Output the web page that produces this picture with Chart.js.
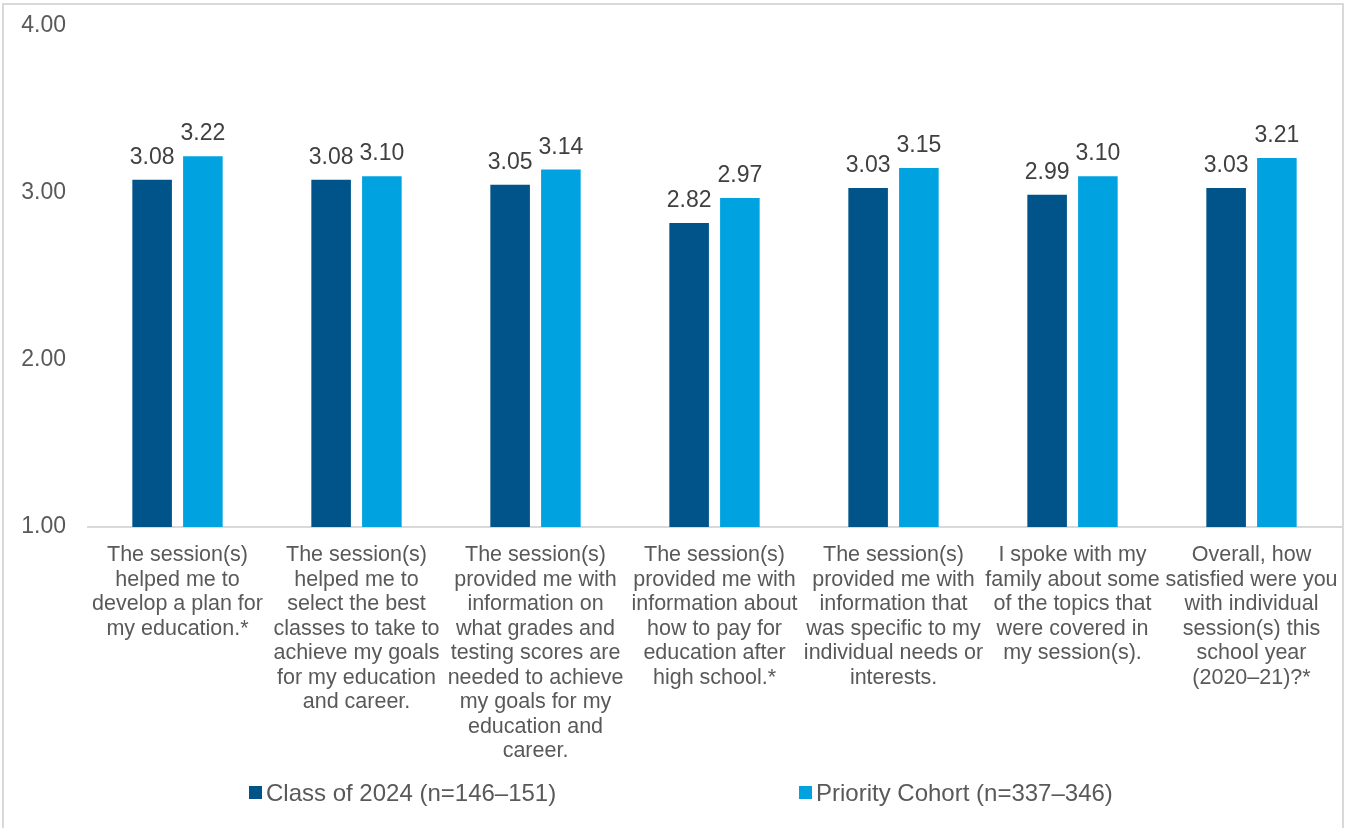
<!DOCTYPE html>
<html>
<head>
<meta charset="utf-8">
<script src="https://cdn.jsdelivr.net/npm/chart.js@4"></script>
<style>
  html, body { margin: 0; padding: 0; background: #fff; overflow: hidden; }
  #frame { position: absolute; left: 2px; top: 3px; width: 1342px; height: 840px; border: 2px solid #d9d9d9; box-sizing: border-box; }
  #wrap { position: absolute; left: 0; top: 0; width: 1347px; height: 828px; }
</style>
</head>
<body>
<div id="frame"></div>
<div id="wrap"><canvas id="chart" width="1347" height="828"></canvas></div>
<script>
const categories = [
    ['The session(s)', 'helped me to', 'develop a plan for', 'my education.*'],
    ['The session(s)', 'helped me to', 'select the best', 'classes to take to', 'achieve my goals', 'for my education', 'and career.'],
    ['The session(s)', 'provided me with', 'information on', 'what grades and', 'testing scores are', 'needed to achieve', 'my goals for my', 'education and', 'career.'],
    ['The session(s)', 'provided me with', 'information about', 'how to pay for', 'education after', 'high school.*'],
    ['The session(s)', 'provided me with', 'information that', 'was specific to my', 'individual needs or', 'interests.'],
    ['I spoke with my', 'family about some', 'of the topics that', 'were covered in', 'my session(s).'],
    ['Overall, how', 'satisfied were you', 'with individual', 'session(s) this', 'school year', '(2020–21)?*']
];
const class2024 = [3.08, 3.08, 3.05, 2.82, 3.03, 2.99, 3.03];
const priorityCohort = [3.22, 3.10, 3.14, 2.97, 3.15, 3.10, 3.21];
const seriesNames = ['Class of 2024 (n=146–151)', 'Priority Cohort (n=337–346)'];
const yTicks = [1, 2, 3, 4];

const textGray = '#595959';
const fontFamily = '"Liberation Sans", Arial, sans-serif';

// value labels above each bar
const valueLabels = {
    id: 'valueLabels',
    afterDatasetsDraw(chart) {
        const ctx = chart.ctx;
        ctx.save();
        ctx.font = '23px ' + fontFamily;
        ctx.fillStyle = '#404040';
        ctx.textAlign = 'center';
        ctx.textBaseline = 'alphabetic';
        chart.data.datasets.forEach((ds, i) => {
            chart.getDatasetMeta(i).data.forEach((bar, j) => {
                ctx.fillText(ds.data[j].toFixed(2), bar.x, bar.y - 16);
            });
        });
        ctx.restore();
    }
};

// legend drawn at the bottom, spaced like the original
const bottomLegend = {
    id: 'bottomLegend',
    afterDraw(chart) {
        const ctx = chart.ctx;
        const starts = [249, 799];
        ctx.save();
        ctx.font = '24px ' + fontFamily;
        ctx.textBaseline = 'middle';
        ctx.textAlign = 'left';
        chart.data.datasets.forEach((ds, i) => {
            ctx.fillStyle = ds.backgroundColor;
            ctx.fillRect(starts[i], 786, 13, 13);
            ctx.fillStyle = textGray;
            ctx.fillText(ds.label, starts[i] + 17, 794);
        });
        ctx.restore();
    }
};

new Chart(document.getElementById('chart').getContext('2d'), {
    type: 'bar',
    data: {
        labels: categories,
        datasets: [
            {
                label: seriesNames[0],
                data: class2024,
                backgroundColor: '#005489'
            },
            {
                label: seriesNames[1],
                data: priorityCohort,
                backgroundColor: '#00a3e0'
            }
        ]
    },
    options: {
        responsive: false,
        animation: false,
        categoryPercentage: 0.567,
        barPercentage: 0.78,
        layout: { padding: { left: 0, right: 6, top: 26, bottom: 0 } },
        plugins: {
            legend: { display: false },
            tooltip: { enabled: false }
        },
        scales: {
            x: {
                grid: { display: false, drawTicks: false },
                border: { display: true, color: '#d9d9d9', width: 2 },
                ticks: {
                    color: textGray,
                    font: { family: fontFamily, size: 21.5, lineHeight: 1.14 },
                    maxRotation: 0,
                    autoSkip: false,
                    padding: 16
                },
                afterFit(scale) {
                    scale.height = 301;
                    scale.paddingLeft = 0;
                    scale.paddingRight = 0;
                }
            },
            y: {
                min: 1,
                max: 4,
                grid: { display: false, drawTicks: false },
                border: { display: false },
                afterBuildTicks(scale) { scale.ticks = yTicks.map(v => ({ value: v })); },
                ticks: {
                    color: textGray,
                    font: { family: fontFamily, size: 23 },
                    padding: 22,
                    callback: function(value) { return value.toFixed(2); }
                },
                afterFit(scale) {
                    scale.width = 88;
                    scale.paddingTop = 0;
                    scale.paddingBottom = 0;
                }
            }
        }
    },
    plugins: [valueLabels, bottomLegend]
});
</script>
</body>
</html>
